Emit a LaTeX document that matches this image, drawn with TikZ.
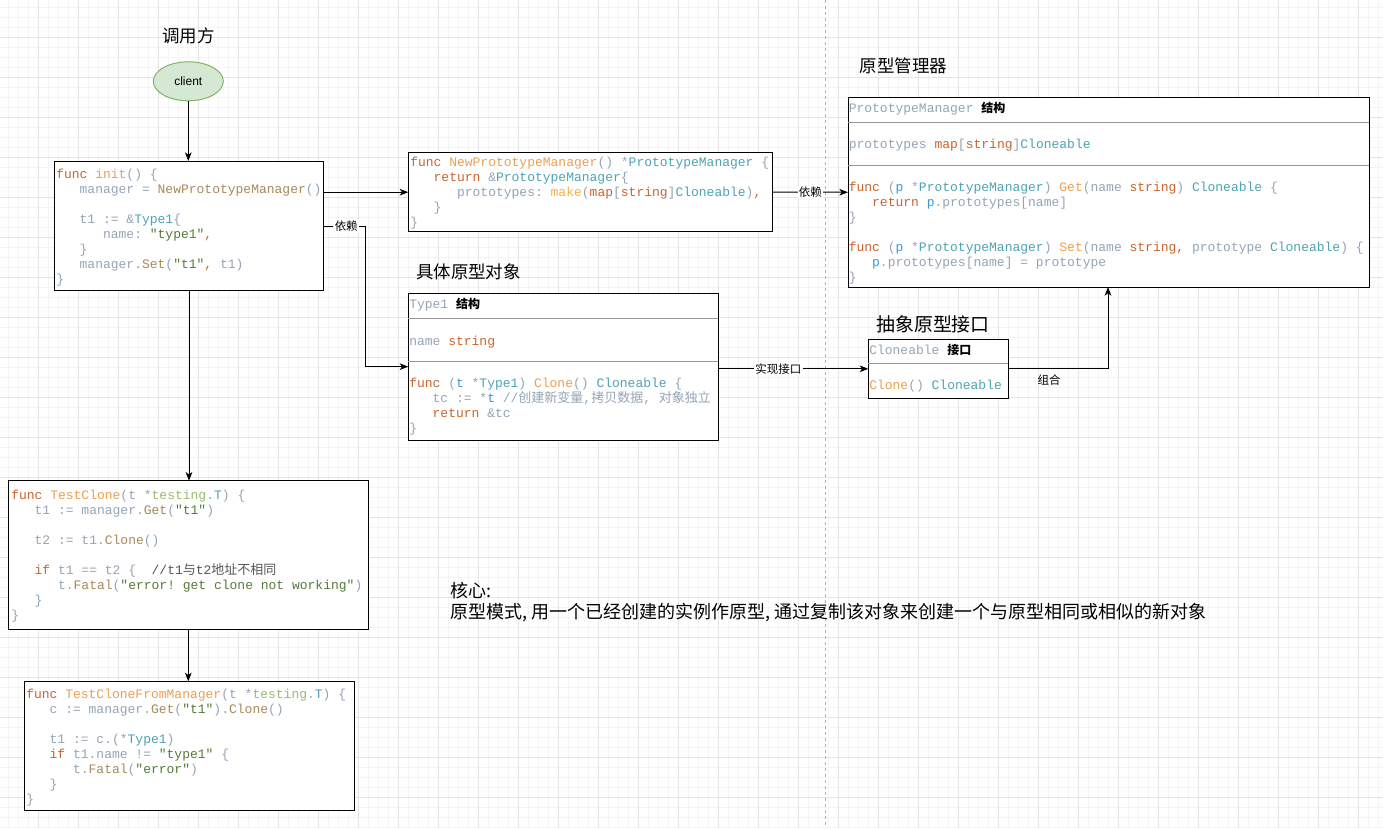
\documentclass[tikz,border=0pt]{standalone}
\usepackage{fontspec}
\setmainfont{Liberation Sans}
\setmonofont{Liberation Mono}
\newfontfamily\cjk{Noto Sans CJK SC}
\usetikzlibrary{arrows.meta,shapes.geometric}
\definecolor{ckw}{HTML}{C8642E}
\definecolor{cfn}{HTML}{EBA050}
\definecolor{cmk}{HTML}{F2B441}
\definecolor{ccl}{HTML}{A8895A}
\definecolor{cty}{HTML}{4FA3B3}
\definecolor{cid}{HTML}{95A4B6}
\definecolor{cst}{HTML}{567A38}
\definecolor{crv}{HTML}{3B98DD}
\definecolor{cpk}{HTML}{9BBB6E}
\definecolor{ccm}{HTML}{555555}
\definecolor{ellfill}{HTML}{D5E8D4}
\definecolor{elldraw}{HTML}{82B366}
\definecolor{sepc}{HTML}{999999}
\definecolor{gmin}{HTML}{F4F4F4}
\definecolor{gmaj}{HTML}{E4E4E4}
\definecolor{dashc}{HTML}{B0B0B0}
\newcommand\cK[1]{\textcolor{ckw}{#1}}
\newcommand\cF[1]{\textcolor{cfn}{#1}}
\newcommand\cM[1]{\textcolor{cmk}{#1}}
\newcommand\cC[1]{\textcolor{ccl}{#1}}
\newcommand\cT[1]{\textcolor{cty}{#1}}
\newcommand\cI[1]{\textcolor{cid}{#1}}
\newcommand\cS[1]{\textcolor{cst}{#1}}
\newcommand\cR[1]{\textcolor{crv}{#1}}
\newcommand\cP[1]{\textcolor{cpk}{#1}}
\newcommand\cX[1]{\textcolor{ccm}{#1}}
\newcommand\indA{\hphantom{xxx}}
\newcommand\indB{\hphantom{xxxxxx}}
\newcommand\hdr[1]{{\cjk\bfseries\fontsize{9}{10}\selectfont #1}}
\newcommand\fst{\rule{0pt}{9pt}}
\begin{document}
\begin{tikzpicture}[x=0.75pt,y=-0.75pt,
  box/.style={draw=black, line width=0.75pt, inner sep=0pt, outer sep=0pt, anchor=north west, fill=white},
  code/.style={anchor=north west, inner sep=0pt, align=left, font={\ttfamily\fontsize{9.75}{11.25}\selectfont\frenchspacing\lineskiplimit=-20pt}},
  codeline/.style={anchor=base west, inner sep=0pt, font={\ttfamily\fontsize{9.75}{11.25}\selectfont\frenchspacing}},
  sepline/.style={draw=sepc, line width=0.75pt},
  title/.style={font={\cjk\fontsize{13.1}{15}\selectfont}, inner sep=0pt},
  lbl/.style={fill=white, inner sep=1pt, font={\cjk\fontsize{8.6}{10}\selectfont}},
  arr/.style={line width=0.75pt, -{Stealth[length=6.5pt,width=5pt,inset=1.8pt]}},
  gminor/.style={draw=gmin, line width=0.75pt},
  gmajor/.style={draw=gmaj, line width=0.75pt}]
\useasboundingbox (0,0) rectangle (1383,828);
\fill[white] (0,0) rectangle (1383,828);
% grid
\foreach \gx in {8,18,...,1380} \draw[gminor] (\gx,0) -- (\gx,828);
\foreach \gy in {7,17,...,827} \draw[gminor] (0,\gy) -- (1383,\gy);
\foreach \gx in {38,78,...,1380} \draw[gmajor] (\gx,0) -- (\gx,828);
\foreach \gy in {37,77,...,827} \draw[gmajor] (0,\gy) -- (1383,\gy);
% dashed divider
\draw[dashc, line width=0.75pt, dash pattern=on 2.25pt off 2.25pt] (825.5,0) -- (825.5,828);

% titles
\node[title] (ttcall) at (188.3,36) {调用方};
\node[title] (ttpm) at (903.5,66) {原型管理器};
\node[title] (ttt1) at (468.5,272) {具体原型对象};
\node[title, font={\cjk\fontsize{14.2}{16}\selectfont}] (ttcl) at (933,324) {抽象原型接口};

% client
\node[ellipse, draw=elldraw, fill=ellfill, line width=0.75pt, minimum width=52.5pt, minimum height=29.25pt, inner sep=0pt, font=\fontsize{9}{10}\selectfont] (client) at (188.3,81.3) {client};

% boxes
\node[box, minimum width=201.45pt, minimum height=96.75pt] (init) at (54.7,161) {};
\node[box, minimum width=273.3pt, minimum height=59.25pt] (npm) at (408.3,152.7) {};
\node[box, minimum width=390.75pt, minimum height=142.125pt] (pm) at (848,97.5) {};
\node[box, minimum width=232.5pt, minimum height=110.025pt] (t1) at (408.3,293.3) {};
\node[box, minimum width=105pt, minimum height=44.25pt] (cl) at (868.3,339.3) {};
\node[box, minimum width=270pt, minimum height=111.75pt] (tc) at (8.3,480.7) {};
\node[box, minimum width=247.725pt, minimum height=96.75pt] (tcfm) at (24,681.3) {};

% separators
\draw[sepline] (pm.west |- 0,122.3) -- (pm.east |- 0,122.3);
\draw[sepline] (pm.west |- 0,165.7) -- (pm.east |- 0,165.7);
\draw[sepline] (t1.west |- 0,318.3) -- (t1.east |- 0,318.3);
\draw[sepline] (t1.west |- 0,361) -- (t1.east |- 0,361);
\draw[sepline] (cl.west |- 0,363.3) -- (cl.east |- 0,363.3);

% init code
\node[code] (initc) at (56,166.3) {\fst\cK{func} \cF{init}\cI{() \{}\\
\indA\cI{manager =} \cC{NewPrototypeManager}\cI{()}\\
\mbox{}\\
\indA\cI{t1 := \&}\cT{Type1}\cI{\{}\\
\indB\cI{name:} \cS{"type1"}\cK{,}\\
\indA\cI{\}}\\
\indA\cI{manager.}\cC{Set}\cI{(}\cS{"t1"}\cK{,} \cI{t1)}\\
\cI{\}}};

% NewPrototypeManager code
\node[code] (npmc) at (410,154.7) {\fst\cK{func} \cF{NewPrototypeManager}\cI{() *}\cT{PrototypeManager} \cI{\{}\\
\indA\cK{return} \cI{\&}\cT{PrototypeManager}\cI{\{}\\
\indB\cI{prototypes:} \cM{make}\cI{(}\cK{map}\cI{[}\cK{string}\cI{]}\cT{Cloneable}\cI{)}\cK{,}\\
\indA\cI{\}}\\
\cI{\}}};

% PrototypeManager class
\node[codeline] (pmh) at (848.5,112.3) {\cI{PrototypeManager} \hdr{结构}};
\node[codeline] (pmr) at (848.5,148.3) {\cI{prototypes} \cK{map}\cI{[}\cK{string}\cI{]}\cT{Cloneable}};
\node[code] (pmc) at (848.5,179.7) {\fst\cK{func} \cI{(}\cR{p} \cI{*}\cT{PrototypeManager}\cI{)} \cF{Get}\cI{(name} \cK{string}\cI{)} \cT{Cloneable} \cI{\{}\\
\indA\cK{return} \cR{p}\cI{.prototypes[name]}\\
\cI{\}}\\
\mbox{}\\
\cK{func} \cI{(}\cR{p} \cI{*}\cT{PrototypeManager}\cI{)} \cF{Set}\cI{(name} \cK{string,} \cI{prototype} \cT{Cloneable}\cI{) \{}\\
\indA\cR{p}\cI{.prototypes[name] = prototype}\\
\cI{\}}};

% Type1 class
\node[codeline] (t1h) at (409,308.3) {\cI{Type1} \hdr{结构}};
\node[codeline] (t1r) at (409,345) {\cI{name} \cK{string}};
\node[code] (t1c) at (409,375.3) {\fst\cK{func} \cI{(}\cR{t} \cI{*}\cT{Type1}\cI{)} \cF{Clone}\cI{()} \cT{Cloneable} \cI{\{}\\
\indA\cI{tc := *}\cR{t} \cI{//{\cjk 创建新变量},{\cjk 拷贝数据}, {\cjk 对象独立}}\\
\indA\cK{return} \cI{\&tc}\\
\cI{\}}};

% Cloneable interface
\node[codeline] (clh) at (869,354) {\cI{Cloneable} \hdr{接口}};
\node[codeline] (clr) at (869,389.3) {\cF{Clone}\cI{()} \cT{Cloneable}};

% TestClone
\node[code] (tcc) at (11,487.7) {\fst\cK{func} \cF{TestClone}\cI{(t *}\cP{testing}\cI{.}\cT{T}\cI{) \{}\\
\indA\cI{t1 := manager.}\cC{Get}\cI{(}\cS{"t1"}\cI{)}\\
\mbox{}\\
\indA\cI{t2 := t1.}\cC{Clone}\cI{()}\\
\mbox{}\\
\indA\cK{if} \cI{t1 == t2 \{}\hphantom{xx}\cX{//t1{\cjk 与}t2{\cjk 地址不相同}}\\
\indB\cI{t.}\cC{Fatal}\cI{(}\cS{"error! get clone not working"}\cI{)}\\
\indA\cI{\}}\\
\cI{\}}};

% TestCloneFromManager
\node[code] (tcfmc) at (26,686) {\fst\cK{func} \cF{TestCloneFromManager}\cI{(t *}\cP{testing}\cI{.}\cT{T}\cI{) \{}\\
\indA\cI{c := manager.}\cC{Get}\cI{(}\cS{"t1"}\cI{).}\cC{Clone}\cI{()}\\
\mbox{}\\
\indA\cI{t1 := c.(*}\cT{Type1}\cI{)}\\
\indA\cK{if} \cI{t1.name !=} \cS{"type1"} \cI{\{}\\
\indB\cI{t.}\cC{Fatal}\cI{(}\cS{"error"}\cI{)}\\
\indA\cI{\}}\\
\cI{\}}};

% connectors
\draw[arr] (client.south) -- (client.south |- init.north);
\draw[arr] (init.east |- npm.west) -- (npm.west);
\draw[arr] (npm.east) -- node[lbl] (lb1) {依赖} (pm.west);
\coordinate (j1) at (365,226);
\draw[arr] (init.east |- j1) -- node[lbl, pos=0.55] (lb2) {依赖} (j1) |- (t1.west);
\draw[arr] (t1.east |- cl.west) -- node[lbl, pos=0.4] (lb3) {实现接口} (cl.west);
\coordinate (j2) at (1108,0);
\draw[arr] (cl.east) -| (pm.south -| j2);
\node[lbl, fill=none] (lb4) at (1049,380) {组合};
\draw[arr] (init.south) -- (init.south |- tc.north);
\draw[arr] (tc.south) -- (tc.south |- tcfm.north);

% core text
\node[anchor=base west, inner sep=0pt, font={\cjk\fontsize{13.5}{16}\selectfont}] (core1) at (450,597) {核心:};
\node[anchor=base west, inner sep=0pt, font={\cjk\fontsize{13.5}{16}\selectfont}] (core2) at (450,618.5) {原型模式, 用一个已经创建的实例作原型, 通过复制该对象来创建一个与原型相同或相似的新对象};
\end{tikzpicture}
\end{document}
